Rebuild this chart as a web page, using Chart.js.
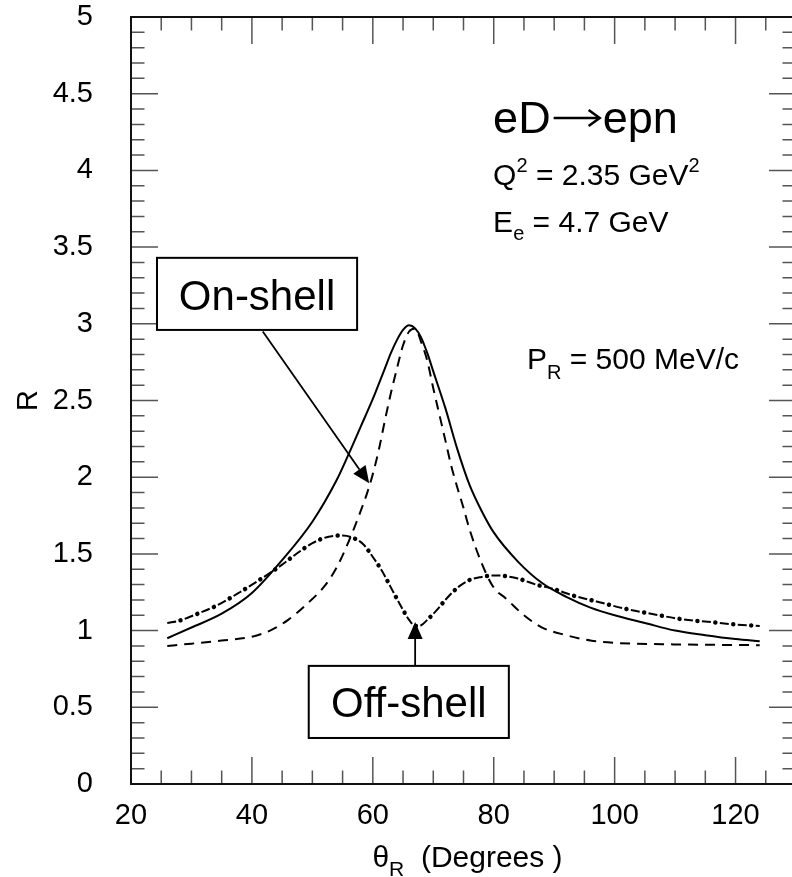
<!DOCTYPE html>
<html><head><meta charset="utf-8">
<script src="https://cdn.jsdelivr.net/npm/chart.js@4.4.1/dist/chart.umd.min.js"></script>
<style>
html,body{margin:0;padding:0;background:#fff;overflow:hidden;width:792px;height:877px}
#wrap{position:absolute;left:0;top:0;width:800px;height:877px}
</style>
</head><body><div id="wrap"><canvas id="c" width="800" height="877"></canvas></div>
<script>
// ---- data ----
const thetaSolid = [26,30,35,40,45,50,54,56,58,60,62,63,64,65,66,67,68,69,70,72,74,76,78,80,84,88,92,96,100,105,110,115,120,124];
const rSolid     = [0.95,1.02,1.11,1.245,1.46,1.71,1.98,2.15,2.33,2.51,2.71,2.81,2.895,2.96,2.99,2.97,2.91,2.81,2.69,2.45,2.18,1.95,1.78,1.64,1.45,1.31,1.22,1.15,1.10,1.05,1.00,0.97,0.945,0.93];

const thetaDashed = [26,30,35,40,43,46,49,52,54,56,58,59,60,61,62,63,64,65,66,67,68,69,70,71,72,73,74,75,76,78,80,82,85,88,92,96,100,110,124];
const rDashed     = [0.90,0.915,0.935,0.96,1.00,1.07,1.17,1.29,1.41,1.58,1.78,1.89,2.02,2.18,2.37,2.55,2.71,2.86,2.95,2.97,2.88,2.76,2.58,2.41,2.24,2.07,1.93,1.80,1.66,1.44,1.28,1.21,1.10,1.02,0.97,0.935,0.92,0.91,0.905];

const thetaDashDot = [26,28,31,34,38,42,45,47,50,52.5,55,57,58.5,60,61.5,63,64.5,66,67,68,69,70.5,72,74,76,78,80,82,84,87,90,93,97,102,106,111,116,120,124];
const rDashDot     = [1.05,1.065,1.11,1.16,1.25,1.35,1.43,1.49,1.57,1.61,1.62,1.60,1.56,1.48,1.39,1.28,1.17,1.07,1.03,1.035,1.07,1.13,1.20,1.28,1.33,1.35,1.36,1.355,1.34,1.30,1.27,1.23,1.19,1.14,1.11,1.075,1.055,1.04,1.03];

const xTickValues = [20,40,60,80,100,120];
const yTickValues = [0,0.5,1,1.5,2,2.5,3,3.5,4,4.5,5];
const yTickLabels = ['0','0.5','1','1.5','2','2.5','3','3.5','4','4.5','5'];

// ---- style ----
const FONT = '"Liberation Sans", Arial, Helvetica, sans-serif';
const f = s => `${s}px ${FONT}`;
const pts = (xs, ys) => xs.map((x, i) => ({x, y: ys[i]}));

function drawRuns(ctx, x, y, parts, align) {
  const widthOf = p => { if (p.arrow) return p.arrow; ctx.font = f(p.s); return ctx.measureText(p.t).width; };
  let w = 0;
  for (const p of parts) w += widthOf(p);
  let cx = align === 'center' ? x - w / 2 : x;
  for (const p of parts) {
    const pw = widthOf(p);
    if (p.arrow) {
      const ay = y - p.h;
      ctx.save();
      ctx.lineWidth = 2.6; ctx.lineCap = 'butt'; ctx.lineJoin = 'miter';
      ctx.beginPath();
      ctx.moveTo(cx + 3, ay); ctx.lineTo(cx + pw - 4, ay);
      ctx.stroke();
      ctx.beginPath();
      ctx.moveTo(cx + pw - 14, ay - 8); ctx.lineTo(cx + pw - 3, ay); ctx.lineTo(cx + pw - 14, ay + 8);
      ctx.stroke();
      ctx.restore();
    } else {
      ctx.font = f(p.s);
      ctx.fillText(p.t, cx, y + (p.dy || 0));
    }
    cx += pw;
  }
}
function arrow(ctx, x1, y1, x2, y2) {
  const ang = Math.atan2(y2 - y1, x2 - x1), L = 17, W = 7.5;
  const bx = x2 - L * Math.cos(ang), by = y2 - L * Math.sin(ang);
  ctx.beginPath(); ctx.moveTo(x1, y1); ctx.lineTo(bx, by); ctx.stroke();
  ctx.beginPath();
  ctx.moveTo(x2, y2);
  ctx.lineTo(bx + W * Math.sin(ang), by - W * Math.cos(ang));
  ctx.lineTo(bx - W * Math.sin(ang), by + W * Math.cos(ang));
  ctx.closePath(); ctx.fill();
}

const decor = {
  id: 'decor',
  afterDraw(chart) {
    const {ctx, chartArea: a, scales: {x, y}} = chart;
    const X = v => x.getPixelForValue(v), Y = v => y.getPixelForValue(v);
    ctx.save();
    // inner tick marks on all four sides
    ctx.strokeStyle = '#555'; ctx.lineWidth = 1.5;
    ctx.beginPath();
    for (let i = 0; ; i++) {
      const v = 20 + i * 5; if (v > 130) break;
      const len = (v % 20 === 0) ? 27 : 13.5;
      const px = X(v);
      ctx.moveTo(px, a.bottom); ctx.lineTo(px, a.bottom - len);
      ctx.moveTo(px, a.top); ctx.lineTo(px, a.top + len);
    }
    for (let i = 0; i <= 50; i++) {
      const len = (i % 5 === 0) ? 27 : 13.5;
      const py = Y(i / 10);
      ctx.moveTo(a.left, py); ctx.lineTo(a.left + len, py);
      ctx.moveTo(a.right, py); ctx.lineTo(a.right - len, py);
    }
    ctx.stroke();
    // frame
    ctx.strokeStyle = '#111'; ctx.lineWidth = 2;
    ctx.strokeRect(a.left, a.top, a.right - a.left, a.bottom - a.top);

    ctx.fillStyle = '#000'; ctx.strokeStyle = '#000';
    ctx.textAlign = 'left'; ctx.textBaseline = 'alphabetic';
    // axis titles
    drawRuns(ctx, (a.left + a.right) / 2 + 4, 867, [
      {t: 'θ', s: 30}, {t: 'R', s: 21, dy: 9}, {t: '  (Degrees )', s: 30}
    ], 'center');
    ctx.save();
    ctx.translate(37, (a.top + a.bottom) / 2);
    ctx.rotate(-Math.PI / 2);
    ctx.font = f(29); ctx.textAlign = 'center';
    ctx.fillText('R', 0, 0);
    ctx.restore();

    // physics labels
    ctx.textAlign = 'left';
    drawRuns(ctx, X(79.9), Y(4.244), [
      {t: 'eD', s: 45}, {arrow: 52, h: 15}, {t: 'epn', s: 45}
    ]);
    drawRuns(ctx, X(79.9), Y(3.905), [
      {t: 'Q', s: 30}, {t: '2', s: 20, dy: -13}, {t: ' = 2.35 GeV', s: 30}, {t: '2', s: 20, dy: -13}
    ]);
    drawRuns(ctx, X(79.9), Y(3.598), [
      {t: 'E', s: 30}, {t: 'e', s: 20, dy: 8}, {t: ' = 4.7 GeV', s: 30}
    ]);
    drawRuns(ctx, X(85.5), Y(2.705), [
      {t: 'P', s: 30}, {t: 'R', s: 20, dy: 10}, {t: ' = 500 MeV/c', s: 30}
    ]);

    // On-shell box + arrow
    ctx.lineWidth = 2;
    const b1 = {x0: X(24.3), x1: X(57.4), y0: Y(3.43), y1: Y(2.96)};
    ctx.fillStyle = '#fff';
    ctx.fillRect(b1.x0, b1.y0, b1.x1 - b1.x0, b1.y1 - b1.y0);
    ctx.strokeRect(b1.x0, b1.y0, b1.x1 - b1.x0, b1.y1 - b1.y0);
    ctx.fillStyle = '#000';
    drawRuns(ctx, (b1.x0 + b1.x1) / 2, Y(3.09), [{t: 'On-shell', s: 42}], 'center');
    ctx.lineWidth = 1.8;
    arrow(ctx, X(41.8), Y(2.95), X(59.4), Y(1.96));

    // Off-shell box + arrow
    ctx.lineWidth = 2;
    const b2 = {x0: X(49.4), x1: X(82.5), y0: Y(0.77), y1: Y(0.30)};
    ctx.fillStyle = '#fff';
    ctx.fillRect(b2.x0, b2.y0, b2.x1 - b2.x0, b2.y1 - b2.y0);
    ctx.strokeRect(b2.x0, b2.y0, b2.x1 - b2.x0, b2.y1 - b2.y0);
    ctx.fillStyle = '#000';
    drawRuns(ctx, (b2.x0 + b2.x1) / 2, Y(0.437), [{t: 'Off-shell', s: 42}], 'center');
    ctx.lineWidth = 1.8;
    arrow(ctx, X(67.0), Y(0.77), X(67.0), Y(1.056));
    ctx.restore();
  }
};

const lineBase = {pointRadius: 0, fill: false, borderColor: '#000', cubicInterpolationMode: 'monotone'};

new Chart(document.getElementById('c'), {
  type: 'line',
  data: {
    datasets: [
      {...lineBase, data: pts(thetaSolid, rSolid), borderWidth: 2},
      {...lineBase, data: pts(thetaDashed, rDashed), borderWidth: 2, borderDash: [10, 7]},
      {...lineBase, data: pts(thetaDashDot, rDashDot), borderWidth: 2, borderDash: [9, 9]},
      {...lineBase, data: pts(thetaDashDot, rDashDot), borderWidth: 4.5, borderDash: [0.01, 17.99], borderDashOffset: 4.5, borderCapStyle: 'round'}
    ]
  },
  options: {
    responsive: false, animation: false, devicePixelRatio: 1,
    layout: {padding: {left: 0, right: 4, top: 17, bottom: 0}},
    plugins: {legend: {display: false}, tooltip: {enabled: false}},
    scales: {
      x: {
        type: 'linear', min: 20, max: 130,
        grid: {display: false, drawTicks: false}, border: {display: false},
        afterBuildTicks: s => { s.ticks = xTickValues.map(v => ({value: v})); },
        afterFit: s => { s.height = 93; s.paddingLeft = 0; s.paddingRight = 0; },
        ticks: {color: '#000', font: {family: FONT, size: 29}, padding: 15, maxRotation: 0, autoSkip: false,
                callback: v => String(v)}
      },
      y: {
        type: 'linear', min: 0, max: 5,
        grid: {display: false, drawTicks: false}, border: {display: false},
        afterBuildTicks: s => { s.ticks = yTickValues.map(v => ({value: v})); },
        afterFit: s => { s.width = 131; s.paddingTop = 0; s.paddingBottom = 0; },
        ticks: {color: '#000', font: {family: FONT, size: 29}, padding: 38, autoSkip: false,
                callback: (v, i) => yTickLabels[i]}
      }
    }
  },
  plugins: [decor]
});
</script>
</body></html>
